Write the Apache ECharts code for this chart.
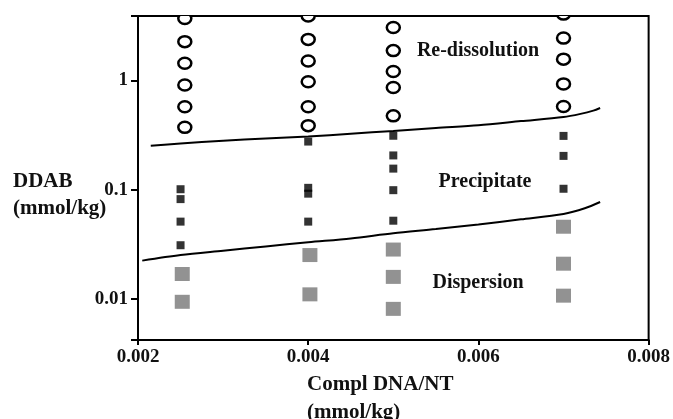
<!DOCTYPE html>
<html>
<head>
<meta charset="utf-8">
<script src="https://cdn.jsdelivr.net/npm/echarts@6/dist/echarts.min.js"></script>
<style>
  html, body { margin: 0; padding: 0; background: #fff; }
  #chart { width: 673px; height: 419px; }
</style>
</head>
<body>
<div id="chart"></div>
<script>
// 坐标轴刻度
const xTicks = [0.002, 0.004, 0.006, 0.008]
const yTicks = [0.01, 0.1, 1]

// 空心圆：Re-dissolution 区
const redissolution = [
  [0.00255, 3.70], [0.00255, 2.27], [0.00255, 1.44], [0.00255, 0.91], [0.00255, 0.575], [0.00255, 0.373],
  [0.004, 3.90], [0.004, 2.38], [0.004, 1.51], [0.004, 0.975], [0.004, 0.575], [0.004, 0.386],
  [0.005, 3.06], [0.005, 1.88], [0.005, 1.21], [0.005, 0.863], [0.005, 0.475],
  [0.007, 4.06], [0.007, 2.45], [0.007, 1.57], [0.007, 0.93], [0.007, 0.578]
]
// 黑色小方块：Precipitate 区
const precipitate = [
  [0.0025, 0.101], [0.0025, 0.082], [0.0025, 0.051], [0.0025, 0.031],
  [0.004, 0.276], [0.004, 0.104], [0.004, 0.092], [0.004, 0.051],
  [0.005, 0.312], [0.005, 0.206], [0.005, 0.156], [0.005, 0.099], [0.005, 0.052],
  [0.007, 0.311], [0.007, 0.204], [0.007, 0.102]
]
// 灰色方块：Dispersion 区
const dispersion = [
  [0.00252, 0.0169], [0.00252, 0.0094],
  [0.00402, 0.0252], [0.00402, 0.0110],
  [0.005, 0.0283], [0.005, 0.0159], [0.005, 0.0081],
  [0.007, 0.0458], [0.007, 0.0210], [0.007, 0.0107]
]
// 相边界线
const upperBoundary = [
  [0.00215, 0.253], [0.0025, 0.265], [0.003, 0.281], [0.0035, 0.294], [0.004, 0.307],
  [0.0045, 0.326], [0.005, 0.345], [0.0055, 0.368], [0.006, 0.39], [0.0065, 0.425],
  [0.007, 0.463], [0.0072, 0.495], [0.00735, 0.53], [0.00743, 0.56]
]
const lowerBoundary = [
  [0.00205, 0.0224], [0.0025, 0.0252], [0.003, 0.0276], [0.0035, 0.0302], [0.004, 0.033],
  [0.0045, 0.0358], [0.005, 0.0399], [0.0055, 0.0436], [0.006, 0.048], [0.0065, 0.0535],
  [0.007, 0.060], [0.00725, 0.0676], [0.00743, 0.0771]
]

const serif = '"Liberation Serif", "Times New Roman", serif'
const ink = '#111'

const myChart = echarts.init(document.getElementById('chart'))
const option = {
  animation: false,
  grid: {
    left: 138, top: 16, width: 516, height: 324,
    show: true, borderColor: '#000', borderWidth: 2
  },
  xAxis: {
    type: 'value',
    min: xTicks[0],
    max: xTicks[xTicks.length - 1],
    interval: xTicks[1] - xTicks[0],
    axisLine: { lineStyle: { color: '#000', width: 2 } },
    axisTick: { length: 5, lineStyle: { color: '#000', width: 2 } },
    axisLabel: {
      margin: 8, color: ink, fontFamily: serif, fontWeight: 'bold', fontSize: 19,
      formatter: v => v.toFixed(3)
    },
    splitLine: { show: false }
  },
  yAxis: {
    type: 'log',
    min: 0.0042,
    max: 3.9,
    axisLine: { lineStyle: { color: '#000', width: 2 } },
    axisTick: { length: 7, lineStyle: { color: '#000', width: 2 } },
    axisLabel: {
      margin: 10, color: ink, fontFamily: serif, fontWeight: 'bold', fontSize: 19,
      formatter: v => {
        const hit = yTicks.find(t => Math.abs(Math.log10(v) - Math.log10(t)) < 1e-6)
        return hit === undefined ? '' : String(hit)
      }
    },
    splitLine: { show: false }
  },
  graphic: [
    { type: 'text', left: 13, top: 168, style: { text: 'DDAB\n(mmol/kg)', font: 'bold 21px ' + serif, lineHeight: 27, fill: ink } },
    { type: 'text', left: 307, top: 371, style: { text: 'Compl DNA/NT\n(mmol/kg)', font: 'bold 21px ' + serif, lineHeight: 28, fill: ink } },
    { type: 'text', x: 478, y: 51, z: 10, style: { text: 'Re-dissolution', font: 'bold 20px ' + serif, fill: ink, align: 'center', verticalAlign: 'middle' } },
    { type: 'text', x: 485, y: 182, z: 10, style: { text: 'Precipitate', font: 'bold 20px ' + serif, fill: ink, align: 'center', verticalAlign: 'middle' } },
    { type: 'text', x: 478, y: 283, z: 10, style: { text: 'Dispersion', font: 'bold 20px ' + serif, fill: ink, align: 'center', verticalAlign: 'middle' } }
  ],
  series: [
    {
      name: 'upper',
      type: 'line',
      data: upperBoundary,
      showSymbol: false,
      smooth: 0.3,
      lineStyle: { color: '#000', width: 2 }
    },
    {
      name: 'lower',
      type: 'line',
      data: lowerBoundary,
      showSymbol: false,
      smooth: 0.3,
      lineStyle: { color: '#000', width: 2 }
    },
    {
      name: 'Re-dissolution',
      type: 'custom',
      clip: true, // 顶部圆圈被边框截断
      data: redissolution,
      encode: { x: 0, y: 1 },
      renderItem (params, api) {
        const p = api.coord([api.value(0), api.value(1)])
        return {
          type: 'ellipse',
          shape: { cx: p[0], cy: p[1], rx: 6.5, ry: 5.5 },
          style: { fill: '#fff', stroke: '#000', lineWidth: 2.5 }
        }
      }
    },
    {
      name: 'Precipitate',
      type: 'scatter',
      data: precipitate,
      symbol: 'rect',
      symbolSize: 8,
      itemStyle: { color: '#000' }
    },
    {
      name: 'Dispersion',
      type: 'scatter',
      data: dispersion,
      symbol: 'rect',
      symbolSize: [15, 14],
      itemStyle: { color: '#777' }
    }
  ]
}
myChart.setOption(option)
</script>
</body>
</html>
